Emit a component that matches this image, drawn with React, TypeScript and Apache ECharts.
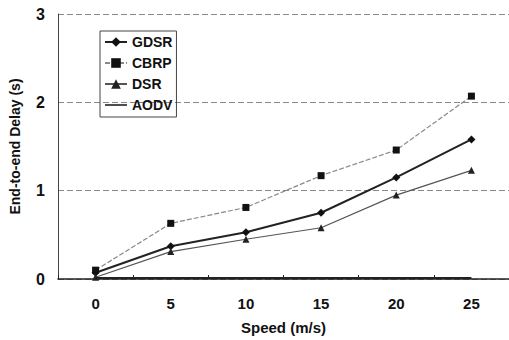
import React, { useEffect, useRef } from "react";
import * as echarts from "echarts";

const speeds = ["0", "5", "10", "15", "20", "25"];
const gdsr = [0.07, 0.37, 0.53, 0.75, 1.15, 1.58];
const cbrp = [0.1, 0.63, 0.81, 1.17, 1.46, 2.07];
const dsr = [0.02, 0.31, 0.45, 0.58, 0.95, 1.23];
const aodv = [0.01, 0.01, 0.01, 0.01, 0.01, 0.01];
const yTicks = [0, 1, 2, 3];

export default function App() {
  const ref = useRef<HTMLDivElement>(null);
  useEffect(() => {
    const chart = echarts.init(ref.current!, null, { renderer: "svg" });
    const font = "Arial, 'Liberation Sans', sans-serif";
    chart.setOption({
      animation: false,
      backgroundColor: "#fff",
      textStyle: { fontFamily: font },
      grid: { left: 57, top: 14, width: 462, height: 271 },
      legend: {
        orient: "vertical",
        left: 100,
        top: 31,
        borderColor: "#444",
        borderWidth: 1,
        padding: [4, 4, 5, 4],
        itemGap: 7,
        itemWidth: 22,
        itemHeight: 12,
        textStyle: { fontSize: 14, fontWeight: "bold", color: "#111", fontFamily: font },
        data: [
          { name: "GDSR" },
          { name: "CBRP" },
          { name: "DSR" },
          { name: "AODV", icon: "path://M0,0 H22 V1.6 H0 Z" },
        ],
      },
      xAxis: {
        type: "category",
        data: speeds,
        boundaryGap: true,
        name: "Speed (m/s)",
        nameLocation: "middle",
        nameGap: 41,
        nameTextStyle: { fontSize: 15, fontWeight: "bold", color: "#111", fontFamily: font },
        axisLine: { lineStyle: { color: "#222", width: 1.5 } },
        axisTick: { show: true, length: 4, inside: true, lineStyle: { color: "#222" } },
        axisLabel: { fontSize: 15, fontWeight: "bold", color: "#111", margin: 17, fontFamily: font },
        splitLine: { show: false },
      },
      yAxis: {
        type: "value",
        min: yTicks[0],
        max: yTicks[yTicks.length - 1],
        interval: 1,
        name: "End-to-end Delay (s)",
        nameLocation: "middle",
        nameGap: 36,
        nameRotate: 90,
        nameTextStyle: { fontSize: 14, fontWeight: "bold", color: "#111", fontFamily: font },
        axisLine: { show: true, lineStyle: { color: "#444", width: 1 } },
        axisTick: { show: false },
        axisLabel: { fontSize: 16, fontWeight: "bold", color: "#111", margin: 13, fontFamily: font },
        splitLine: { show: true, lineStyle: { color: "#888", type: [6, 3], width: 1 } },
      },
      series: [
        {
          name: "GDSR",
          type: "line",
          data: gdsr,
          symbol: "diamond",
          symbolSize: 8,
          lineStyle: { color: "#222", width: 2 },
          itemStyle: { color: "#111" },
        },
        {
          name: "CBRP",
          type: "line",
          data: cbrp,
          symbol: "rect",
          symbolSize: 7,
          lineStyle: { color: "#888", width: 1.2, type: [5, 2] },
          itemStyle: { color: "#111" },
        },
        {
          name: "DSR",
          type: "line",
          data: dsr,
          symbol: "triangle",
          symbolSize: 7,
          lineStyle: { color: "#555", width: 1.2 },
          itemStyle: { color: "#222" },
        },
        {
          name: "AODV",
          type: "line",
          data: aodv,
          symbol: "none",
          lineStyle: { color: "#222", width: 2 },
          itemStyle: { color: "#222" },
        },
      ],
    });
    return () => chart.dispose();
  }, []);
  return (
    <div
      ref={ref}
      style={{ position: "fixed", left: 0, top: 0, width: 509, height: 340, overflow: "hidden" }}
    />
  );
}
